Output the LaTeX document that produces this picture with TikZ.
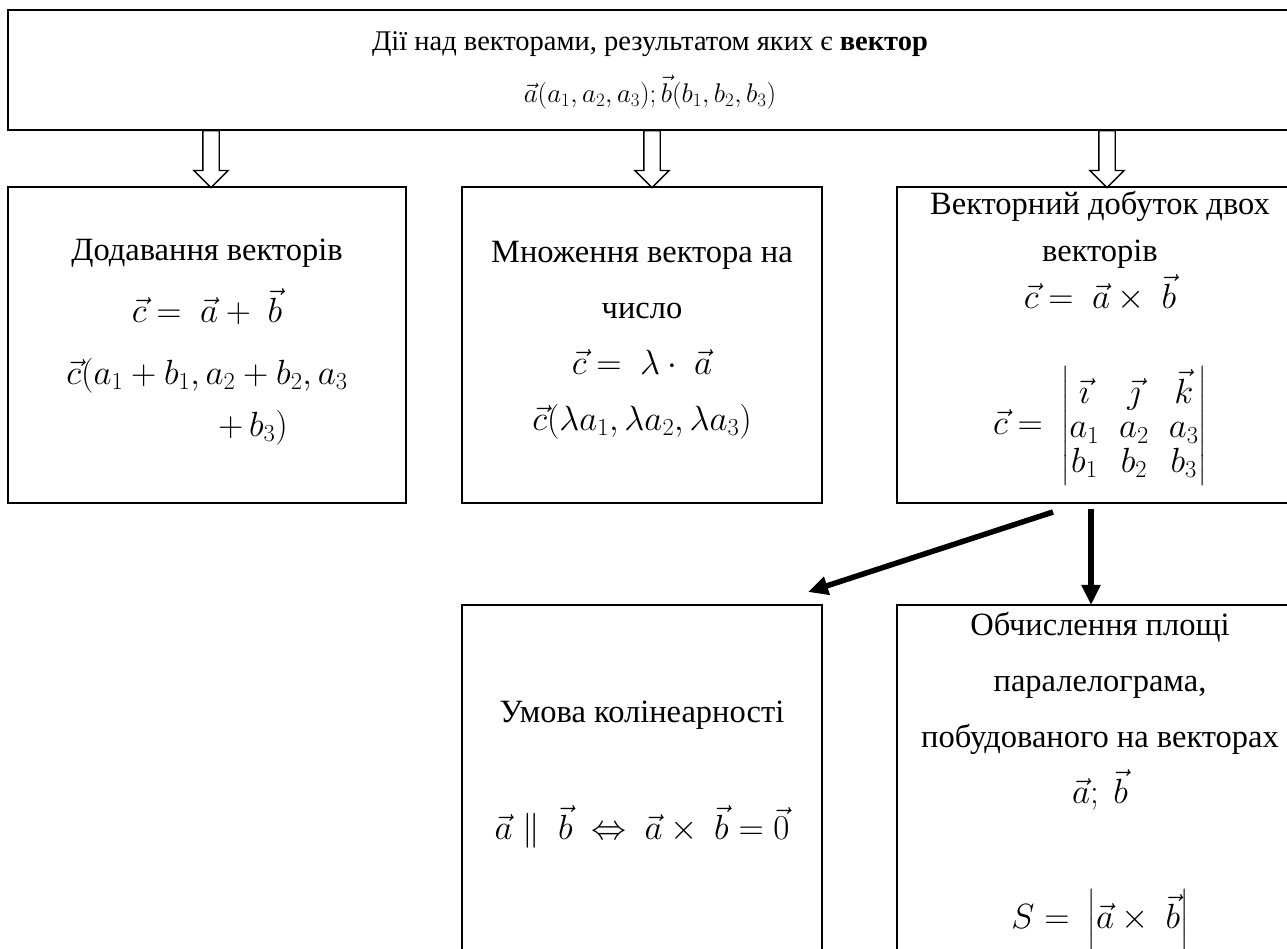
\RequirePackage{fix-cm}
\documentclass[tikz,border=0pt]{standalone}
\usepackage{amsmath}
\usepackage{fontspec}
\setmainfont{Liberation Serif}
\usetikzlibrary{arrows.meta,positioning,shapes.arrows,calc}
\newcommand{\fm}[1]{{\fontsize{35}{47}\selectfont$#1$}}

\begin{document}
\begin{tikzpicture}[
  x=1pt, y=1pt,
  box/.style={draw, line width=2.4pt, inner sep=0pt, outer sep=0pt, anchor=north west},
  txt/.style={align=center, inner sep=0pt, anchor=north},
  hollow/.style={draw, line width=1.3pt, single arrow, shape border rotate=270,
                 minimum height=57pt, single arrow head extend=9pt,
                 single arrow head indent=0pt, inner sep=7.5pt},
  blackarrow/.style={line width=5.5pt, -{Triangle[length=20pt,width=18pt]}}
]
\useasboundingbox (0,0) rectangle (1287,949);
% top box
\node[box, minimum width=1284pt, minimum height=120pt, align=center,
      font=\fontsize{28.5}{52}\selectfont] (top) at (8,939)
  {Дії над векторами, результатом яких є \textbf{вектор}\\
   {\fontsize{27}{52}\selectfont$\vec{a}(a_1,a_2,a_3);\vec{b}(b_1,b_2,b_3)$}};
% second row
\node[box, minimum width=398pt, minimum height=316pt] (add) at (8,762) {};
\node[box, minimum width=360pt, minimum height=316pt,
      right=56pt of add.north east, anchor=north west] (mul) {};
\node[box, minimum width=406pt, minimum height=316pt,
      right=75pt of mul.north east, anchor=north west] (cross) {};
% third row
\node[box, minimum width=360pt, minimum height=360pt,
      below=102pt of mul.south west, anchor=north west] (coll) {};
\node[box, minimum width=406pt, minimum height=360pt,
      below=102pt of cross.south west, anchor=north west] (area) {};

\node[txt, font=\fontsize{32.5}{62}\selectfont, below=52pt of add.north] (addtext)
  {Додавання векторів\\
   \fm{\vec{c}=\ \vec{a}+\ \vec{b}}\\
   \fm{\vec{c}(a_1+b_1,a_2+b_2,a_3}\\[-10pt]
   \hspace*{92pt}\fm{+\,b_3)}};
\node[txt, font=\fontsize{32.5}{56}\selectfont, below=54pt of mul.north] (multext)
  {Множення вектора на\\
   число\\
   \fm{\vec{c}=\ \lambda\cdot\ \vec{a}}\\
   \fm{\vec{c}(\lambda a_1,\lambda a_2,\lambda a_3)}};
\node[txt, font=\fontsize{32.5}{47}\selectfont, below=4pt of cross.north] (crosstext)
  {Векторний добуток двох\\
   векторів\\
   \fm{\vec{c}=\ \vec{a}\times\ \vec{b}}\\[54pt]
   \fm{\renewcommand{\arraystretch}{0.72}\setlength{\arraycolsep}{10pt}%
   \vec{c}=\ \begin{vmatrix}
     \vec{\imath} & \vec{\jmath} & \vec{k}\\
     a_1 & a_2 & a_3\\
     b_1 & b_2 & b_3
   \end{vmatrix}}};
\node[txt, font=\fontsize{32.5}{58}\selectfont, below=96pt of coll.north] (colltext)
  {Умова колінеарності\\[59pt]
   \fm{\vec{a}\parallel\ \vec{b}\ \Leftrightarrow\ \vec{a}\times\ \vec{b}=\vec{0}}};
\node[txt, font=\fontsize{32.5}{56}\selectfont, below=7pt of area.north] (areatext)
  {Обчислення площі\\
   паралелограма,\\
   побудованого на векторах\\
   \fm{\vec{a};\ \vec{b}}\\[69pt]
   \fm{S=\ \left|\vec{a}\times\ \vec{b}\right|}};

% hollow arrows from the top box
\foreach \b/\dx [count=\i] in {add/4, mul/10, cross/7}
  \node[hollow, anchor=tail] (down\i) at ($(top.south -| \b.north)+(\dx,0)$) {};

% black arrows
\coordinate (d0) at ($(cross.south west)+(156,-9)$);
\coordinate (d1) at ($(coll.north east)+(-14,13)$);
\coordinate (v0) at ($(cross.south west)+(194,-6)$);
\draw[blackarrow] (d0) -- (d1);
\draw[blackarrow] (v0) -- (v0 |- area.north);
\end{tikzpicture}
\end{document}
